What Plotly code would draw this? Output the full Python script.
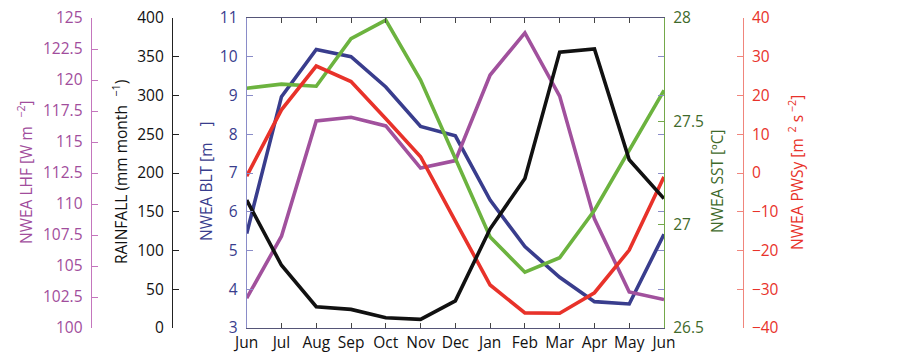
import plotly.graph_objects as go

months = ["Jun", "Jul", "Aug", "Sep", "Oct", "Nov", "Dec", "Jan", "Feb", "Mar", "Apr", "May", "Jun"]
xpos = list(range(len(months)))

blt = [5.44, 8.97, 10.19, 10.0, 9.22, 8.2, 7.96, 6.3, 5.1, 4.31, 3.68, 3.62, 5.42]
sst = [27.66, 27.68, 27.67, 27.9, 27.99, 27.7, 27.32, 26.94, 26.77, 26.84, 27.07, 27.36, 27.65]
pwsy = [-0.8, 16.3, 27.6, 23.6, 14.0, 4.2, -12.4, -28.9, -36.1, -36.2, -30.9, -19.9, -1.0]
lhf = [102.4, 107.4, 116.7, 117.0, 116.3, 112.9, 113.5, 120.4, 123.8, 118.7, 108.8, 102.9, 102.3]
rain = [165, 81, 27.5, 24, 13.3, 11.2, 35, 128, 193, 356, 360, 217, 167]

W, H = 903, 354
L_PLOT, R_PLOT, T_PLOT, B_PLOT = 246.7, 664.0, 18, 328
PH = B_PLOT - T_PLOT

def px(x):
    return x / W

def py(y):
    return (B_PLOT - y) / PH

FONT = "Open Sans"
FS = 15.5
BLUE, BLUE_AX = "#393d8d", "#8a8cc8"
GREEN, GREEN_TXT, GREEN_AX = "#6cb33f", "#3f6a2b", "#74a84a"
RED, RED_AX = "#e8322a", "#f0857c"
PURPLE, PURPLE_TXT, PURPLE_AX = "#a1519d", "#a14d9c", "#c476bd"

fig = go.Figure()
lw = 3.6
fig.add_trace(go.Scatter(x=xpos, y=blt, mode="lines", line=dict(color=BLUE, width=lw), yaxis="y"))
fig.add_trace(go.Scatter(x=xpos, y=lhf, mode="lines", line=dict(color=PURPLE, width=lw), yaxis="y2"))
fig.add_trace(go.Scatter(x=xpos, y=sst, mode="lines", line=dict(color=GREEN, width=lw), yaxis="y3"))
fig.add_trace(go.Scatter(x=xpos, y=pwsy, mode="lines", line=dict(color=RED, width=lw), yaxis="y4"))
fig.add_trace(go.Scatter(x=xpos, y=rain, mode="lines", line=dict(color="#111111", width=lw), yaxis="y5"))

tickfont = lambda c: dict(family=FONT, size=FS, color=c)
common = dict(showgrid=False, zeroline=False, ticks="inside", ticklen=6, tickwidth=1.2,
              showline=True, linewidth=1.2, automargin=False, ticklabelstandoff=5)

fig.update_layout(
    width=W, height=H,
    margin=dict(l=0, r=0, t=T_PLOT, b=H - B_PLOT),
    paper_bgcolor="white", plot_bgcolor="white",
    showlegend=False,
    hovermode=False,
    xaxis=dict(domain=[px(L_PLOT), px(R_PLOT)], range=[0, 12], tickmode="array",
               tickvals=xpos, ticktext=months, showgrid=False, zeroline=False,
               ticks="inside", ticklen=5, tickwidth=1, showline=True, linecolor="#555577",
               linewidth=1.2, mirror="ticks", tickfont=tickfont("#111111"), automargin=False,
               ticklabelstandoff=0),
    yaxis=dict(range=[3, 11], dtick=1, tickfont=tickfont(BLUE), linecolor=BLUE_AX,
               tickcolor=BLUE_AX, mirror="ticks", **common),
    yaxis2=dict(range=[100, 125], dtick=2.5, overlaying="y", anchor="free", side="left",
                position=px(90.7), tickfont=tickfont(PURPLE_TXT), linecolor=PURPLE_AX,
                tickcolor=PURPLE_AX, **common),
    yaxis3=dict(range=[26.5, 28], dtick=0.5, overlaying="y", anchor="x", side="right",
                tickfont=tickfont(GREEN_TXT), linecolor=GREEN_AX, tickcolor=GREEN_AX, **common),
    yaxis4=dict(range=[-40, 40], dtick=10, overlaying="y", anchor="free", side="right",
                position=px(742.7), tickfont=tickfont(RED), linecolor=RED_AX,
                tickcolor=RED_AX, **common),
    yaxis5=dict(range=[0, 400], dtick=50, overlaying="y", anchor="free", side="left",
                position=px(172), tickfont=tickfont("#111111"), linecolor="#222222",
                tickcolor="#222222", **common),
)

titles = [
    ("NWEA LHF [W m<sup>   −2</sup>]", 25, 172, PURPLE_TXT),
    ("RAINFALL (mm month<sup>   −1</sup>)", 120, 172, "#111111"),
    ("NWEA BLT [m    ]", 206, 181, BLUE),
    ("NWEA SST [ºC]", 717, 181, GREEN_TXT),
    ("NWEA PWSy [m<sup>  2</sup> s<sup> −2</sup>]", 796, 173, RED),
]
for text, x, y, c in titles:
    fig.add_annotation(text=text, x=px(x), y=py(y), xref="paper", yref="paper",
                       xanchor="center", yanchor="middle", textangle=-90, showarrow=False,
                       font=dict(family=FONT, size=FS, color=c))

fig.write_html("out.html", config={"displayModeBar": False},
               post_script="document.body.style.margin='0';document.body.style.overflow='hidden';")
